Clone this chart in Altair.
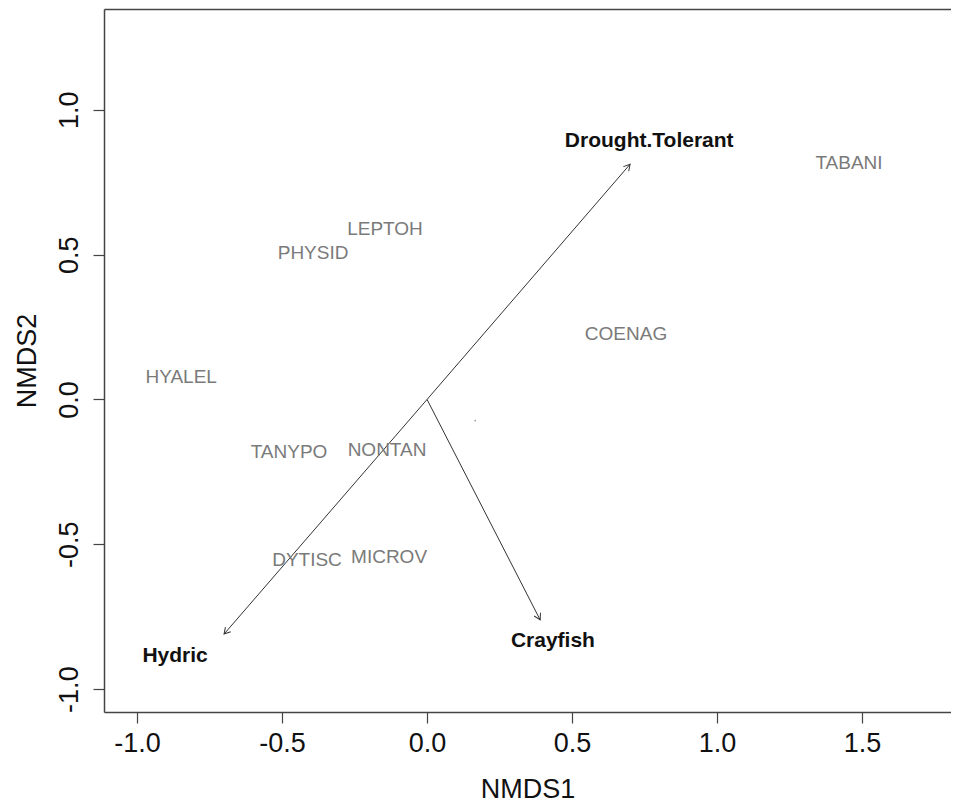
import math
import altair as alt
import pandas as pd

# species scores (NMDS1, NMDS2)
species = ["TABANI", "LEPTOH", "PHYSID", "COENAG", "HYALEL", "TANYPO", "NONTAN", "DYTISC", "MICROV"]
sp_x = [1.455, -0.145, -0.393, 0.686, -0.848, -0.476, -0.138, -0.414, -0.131]
sp_y = [0.815, 0.588, 0.505, 0.226, 0.079, -0.183, -0.173, -0.554, -0.544]

# environmental vectors
vectors = ["Drought.Tolerant", "Hydric", "Crayfish"]
vec_x = [0.700, -0.700, 0.390]
vec_y = [0.812, -0.810, -0.761]
vec_label_x = [0.766, -0.869, 0.434]
vec_label_y = [0.893, -0.886, -0.835]

# stray small point
dot_x = [0.166]
dot_y = [-0.073]

W, H = 847, 703
x_dom = [-1.114, -1.114 + W / 290.0]
y_dom = [-1.079, 1.348]
px_x = W / (x_dom[1] - x_dom[0])
px_y = H / (y_dom[1] - y_dom[0])

sp_df = pd.DataFrame({"name": species, "x": sp_x, "y": sp_y})
vec_df = pd.DataFrame({
    "name": vectors, "x0": [0.0] * 3, "y0": [0.0] * 3, "x": vec_x, "y": vec_y,
    "lx": vec_label_x, "ly": vec_label_y,
})
vec_df["angle"] = [
    (math.degrees(math.atan2(a * px_x, b * px_y)) + 360) % 360 for a, b in zip(vec_x, vec_y)
]
dot_df = pd.DataFrame({"x": dot_x, "y": dot_y})

xs = alt.Scale(domain=x_dom, nice=False, zero=False)
ys = alt.Scale(domain=y_dom, nice=False, zero=False)

lab_expr = "replace(format(datum.value, '.1f'), '\u2212', '-')"

x_axis = alt.Axis(values=[-1, -0.5, 0, 0.5, 1, 1.5], labelExpr=lab_expr, title="NMDS1",
                  tickSize=11, labelPadding=7, titlePadding=20)
y_axis = alt.Axis(values=[-1, -0.5, 0, 0.5, 1], labelExpr=lab_expr, title="NMDS2",
                  tickSize=11, labelAngle=270, labelAlign="center", labelBaseline="bottom",
                  labelPadding=10, titlePadding=14)

arrows = alt.Chart(vec_df).mark_rule(color="#333333", strokeWidth=1).encode(
    x=alt.X("x0:Q", scale=xs, axis=x_axis),
    y=alt.Y("y0:Q", scale=ys, axis=y_axis),
    x2="x:Q",
    y2="y:Q",
)

heads = alt.Chart(vec_df).mark_point(
    shape="M -0.5 0.87 L 0 0 L 0.5 0.87", size=200, filled=False,
    stroke="#333333", strokeWidth=1, opacity=1,
).encode(
    x=alt.X("x:Q", scale=xs, axis=None),
    y=alt.Y("y:Q", scale=ys, axis=None),
    angle=alt.Angle("angle:Q", scale=None),
)

sp_text = alt.Chart(sp_df).mark_text(
    font="Liberation Sans", fontSize=19, color="#7a7a7a", baseline="middle", align="center"
).encode(
    x=alt.X("x:Q", scale=xs, axis=alt.Axis(orient="top", labels=False, ticks=False, title=None)),
    y=alt.Y("y:Q", scale=ys, axis=None),
    text="name:N",
)

vec_text = alt.Chart(vec_df).mark_text(
    font="Liberation Sans", fontSize=21, fontWeight="bold", color="#111111",
    baseline="middle", align="center"
).encode(
    x=alt.X("lx:Q", scale=xs, axis=None),
    y=alt.Y("ly:Q", scale=ys, axis=None),
    text="name:N",
)

dots = alt.Chart(dot_df).mark_circle(size=3, color="#999999", opacity=1).encode(
    x=alt.X("x:Q", scale=xs, axis=None),
    y=alt.Y("y:Q", scale=ys, axis=None),
)

chart = alt.layer(arrows, heads, sp_text, vec_text, dots).resolve_axis(
    x="independent", y="independent"
).properties(
    width=W, height=H,
    autosize=alt.AutoSizeParams(type="none"),
    padding={"left": 96, "top": 1, "right": 0, "bottom": 94},
).configure_view(stroke=None).configure_axis(
    grid=False,
    domainColor="#444444", domainWidth=1.5,
    tickColor="#444444", tickWidth=1.2,
    labelFont="Liberation Sans", labelFontSize=27, labelColor="#111111",
    titleFont="Liberation Sans", titleFontSize=27, titleColor="#111111",
    titleFontWeight="normal",
)

chart.save("out.html", embed_options={"renderer": "svg", "actions": False})
